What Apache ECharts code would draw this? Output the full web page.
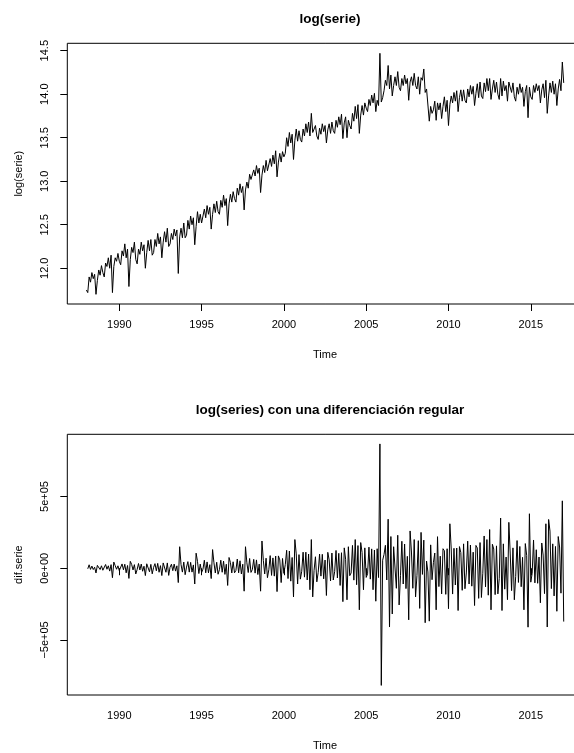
<!DOCTYPE html>
<html>
<head>
<meta charset="utf-8">
<script src="https://cdn.jsdelivr.net/npm/echarts@6/dist/echarts.min.js"></script>
<style>
html,body{margin:0;padding:0;background:#fff;overflow:hidden;}
#chart{width:600px;height:753px;}
</style>
</head>
<body>
<div id="chart"></div>
<script>
// Monthly series, Jan 1988 .. Jan 2017
const startYear = 1988;
const logSerie = [
// 1988
11.75, 11.72, 11.90, 11.84, 11.95, 11.88, 11.93, 11.70, 11.86, 11.98, 11.92, 12.03,
// 1989
11.95, 11.90, 12.06, 12.02, 12.12, 12.00, 12.15, 11.72, 12.02, 12.12, 12.08, 12.17,
// 1990
12.08, 12.04, 12.20, 12.14, 12.28, 12.12, 12.22, 11.79, 12.10, 12.24, 12.18, 12.30,
// 1991
12.10, 12.05, 12.22, 12.16, 12.30, 12.20, 12.27, 12.00, 12.18, 12.32, 12.20, 12.33,
// 1992
12.15, 12.18, 12.33, 12.25, 12.40, 12.28, 12.36, 12.12, 12.30, 12.42, 12.30, 12.46,
// 1993
12.25, 12.28, 12.40, 12.33, 12.45, 12.37, 12.44, 11.94, 12.36, 12.46, 12.35, 12.52,
// 1994
12.35, 12.38, 12.55, 12.45, 12.60, 12.50, 12.58, 12.27, 12.48, 12.65, 12.52, 12.62,
// 1995
12.52, 12.50, 12.68, 12.58, 12.72, 12.62, 12.70, 12.45, 12.62, 12.74, 12.64, 12.77,
// 1996
12.65, 12.62, 12.78, 12.70, 12.84, 12.72, 12.80, 12.49, 12.74, 12.85, 12.76, 12.88,
// 1997
12.80, 12.76, 12.92, 12.84, 12.97, 12.87, 12.94, 12.67, 12.90, 12.99, 12.92, 13.08,
// 1998
13.02, 13.00, 13.13, 13.06, 13.18, 13.09, 13.15, 12.87, 13.07, 13.18, 13.10, 13.24,
// 1999
13.12, 13.10, 13.26, 13.17, 13.30, 13.20, 13.35, 13.05, 13.22, 13.32, 13.22, 13.34,
// 2000
13.28, 13.32, 13.50, 13.40, 13.56, 13.44, 13.54, 13.25, 13.47, 13.60, 13.46, 13.58,
// 2001
13.48, 13.45, 13.60, 13.52, 13.66, 13.56, 13.68, 13.52, 13.78, 13.56, 13.54, 13.64,
// 2002
13.52, 13.48, 13.61, 13.54, 13.66, 13.57, 13.64, 13.44, 13.59, 13.66, 13.55, 13.68,
// 2003
13.58, 13.55, 13.70, 13.62, 13.74, 13.65, 13.77, 13.49, 13.67, 13.74, 13.50, 13.70,
// 2004
13.64, 13.60, 13.78, 13.69, 13.86, 13.72, 13.88, 13.55, 13.76, 13.87, 13.76, 13.90,
// 2005
13.84, 13.80, 13.94, 13.87, 13.99, 13.90, 14.01, 13.80, 13.93, 13.87, 14.47, 13.91,
// 2006
13.96, 14.04, 14.16, 14.10, 14.33, 14.06, 14.22, 13.98, 14.10, 14.20, 14.10, 14.26,
// 2007
14.08, 14.04, 14.18, 14.10, 14.22, 14.12, 14.18, 13.93, 14.14, 14.20, 14.10, 14.24,
// 2008
14.10, 14.06, 14.20, 14.00, 14.19, 14.16, 14.29, 14.02, 14.06, 14.04, 13.69, 13.86,
// 2009
13.78, 13.82, 13.92, 13.70, 13.90, 13.82, 13.90, 13.72, 13.86, 13.97, 13.80, 13.93,
// 2010
13.64, 13.88, 13.98, 13.90, 14.02, 13.92, 14.04, 13.80, 13.96, 14.05, 13.92, 14.05,
// 2011
13.93, 13.90, 14.06, 13.97, 14.10, 14.00, 14.09, 13.87, 14.01, 14.12, 13.96, 14.14,
// 2012
13.98, 13.95, 14.13, 14.03, 14.18, 14.04, 14.18, 13.94, 14.06, 14.16, 14.02, 14.14,
// 2013
14.00, 13.94, 14.18, 13.98, 14.15, 14.04, 14.10, 13.92, 14.14, 14.14, 14.02, 14.13,
// 2014
13.97, 13.92, 14.08, 14.00, 14.12, 14.02, 14.08, 13.86, 14.03, 14.10, 13.73, 14.08,
// 2015
13.97, 13.94, 14.10, 14.02, 14.12, 14.04, 14.10, 13.90, 14.05, 14.12, 13.96, 14.16,
// 2016
13.78, 13.98, 14.13, 14.02, 14.15, 14.00, 14.12, 13.87, 14.06, 14.17, 14.04, 14.37,
// 2017
14.13
];

// Regular difference of the series, Feb 1988 .. Jan 2017
const difStartIndex = 1;
const difSerie = [
// 1988 (Feb-Dec)
-4000, 24000, -8000, 15000, -9000, 7000, -33000, 20000, 18000, -9000, 17000,
// 1989
-14000, -8000, 26000, -7000, 17000, -20000, 25000, -66000, 43000, 18000, -7000, 17000,
// 1990
-17000, -8000, 30000, -11000, 28000, -32000, 19000, -71000, 48000, 27000, -12000, 25000,
// 1991
-40000, -9000, 33000, -12000, 29000, -21000, 14000, -51000, 31000, 29000, -25000, 27000,
// 1992
-39000, 6000, 32000, -18000, 34000, -28000, 18000, -51000, 37000, 28000, -28000, 37000,
// 1993
-50000, 7000, 28000, -17000, 29000, -20000, 17000, -100000, 150000, 25000, -27000, 43000,
// 1994
-45000, 8000, 46000, -27000, 41000, -27000, 23000, -110000, 105000, 48000, -37000, 29000,
// 1995
-30000, -6000, 56000, -32000, 44000, -32000, 25000, -72000, 130000, 38000, -33000, 42000,
// 1996
-42000, -10000, 56000, -28000, 50000, -43000, 28000, -120000, 75000, 40000, -33000, 45000,
// 1997
-32000, -16000, 64000, -32000, 52000, -40000, 28000, -160000, 150000, 38000, -30000, 68000,
// 1998
-29000, -9000, 62000, -34000, 58000, -44000, 29000, -160000, 190000, 55000, -40000, 70000,
// 1999
-66000, -11000, 88000, -50000, 72000, -55000, 85000, -163000, 86000, 58000, -100000, 68000,
// 2000
-36000, 25000, 125000, -72000, 120000, -90000, 75000, -200000, 200000, 100000, -110000, 95000,
// 2001
-76000, -21000, 112000, -62000, 112000, -82000, 99000, -150000, 200000, -200000, -15000, 80000,
// 2002
-95000, -29000, 99000, -55000, 97000, -74000, 57000, -190000, 111000, 58000, -89000, 106000,
// 2003
-82000, -24000, 124000, -68000, 104000, -120000, 108000, -233000, 142000, 63000, -220000, 150000,
// 2004
-52000, -33000, 159000, -83000, 200000, -115000, 158000, -290000, 179000, 110000, -150000, 142000,
// 2005
-64000, -39000, 147000, -76000, 135000, -150000, 127000, -230000, 136000, -65000, 867000, -817000,
// 2006
56000, 96000, 160000, -82000, 342000, -410000, 221000, -319000, 150000, 140000, -140000, 230000,
// 2007
-256000, -52000, 188000, -110000, 169000, -142000, 83000, -360000, 260000, 113000, -140000, 200000,
// 2008
-200000, -52000, 192000, -280000, 250000, -43000, 196000, -380000, 50000, -26000, -369000, 163000,
// 2009
-80000, 39000, 106000, -290000, 220000, -128000, 84000, -179000, 136000, 122000, -182000, 136000,
// 2010
-282000, 310000, 134000, -180000, 139000, -117000, 141000, -295000, 151000, 109000, -154000, 170000,
// 2011
-143000, -33000, 189000, -110000, 162000, -125000, 112000, -260000, 159000, 141000, -210000, 179000,
// 2012
-204000, -35000, 225000, -130000, 200000, -188000, 270000, -290000, 167000, 134000, -184000, 156000,
// 2013
-179000, -72000, 350000, -295000, 170000, -146000, 78000, -219000, 320000, 106000, -156000, 142000,
// 2014
-220000, -57000, 193000, -99000, 152000, -129000, 76000, -290000, 172000, 90000, -411000, 380000,
// 2015
-97000, -35000, 197000, -102000, 129000, -105000, 78000, -241000, 176000, 92000, -177000, 310000,
// 2016
-410000, 340000, 259000, -142000, 170000, -193000, 152000, -300000, 221000, 148000, -174000, 470000,
// 2017
-372000
];

const yearTicks = [1990, 1995, 2000, 2005, 2010, 2015];
const logTicks = [12.0, 12.5, 13.0, 13.5, 14.0, 14.5];
const difTicks = [-500000, 0, 500000];
const difTickLabels = ['\u22125e+05', '0e+00', '5e+05'];

const FONT = '"Liberation Sans", Arial, Helvetica, sans-serif';

const topData = logSerie.map((v, i) => [startYear + i / 12, v]);
const difData = difSerie.map((v, i) => [startYear + (i + difStartIndex) / 12, v]);

const chart = echarts.init(document.getElementById('chart'), null, {renderer: 'canvas'});

function xAxisFor(gridIndex) {
  return {
    gridIndex: gridIndex,
    type: 'value',
    min: 1986.84,
    max: 2018.16,
    axisLine: {show: false},
    splitLine: {show: false},
    axisTick: {show: true, customValues: yearTicks, length: 7, inside: false,
               lineStyle: {color: '#000', width: 1}},
    axisLabel: {show: true, customValues: yearTicks, color: '#000', fontFamily: FONT,
                fontSize: 11, margin: 15, formatter: v => String(v)},
    name: 'Time',
    nameLocation: 'middle',
    nameGap: 45,
    nameTextStyle: {color: '#000', fontFamily: FONT, fontSize: 11}
  };
}

const option = {
  animation: false,
  backgroundColor: '#fff',
  title: [
    {text: 'log(serie)', left: 325, top: 7, textAlign: 'center',
     textStyle: {fontFamily: FONT, fontSize: 13.5, fontWeight: 'bold', color: '#000'}},
    {text: 'log(series) con una diferenciación regular', left: 325, top: 398, textAlign: 'center',
     textStyle: {fontFamily: FONT, fontSize: 13.5, fontWeight: 'bold', color: '#000'}}
  ],
  grid: [
    {left: 67.3, top: 43.3, width: 515.5, height: 260.7, show: true,
     borderColor: '#000', borderWidth: 1, backgroundColor: 'transparent'},
    {left: 67.3, top: 434.3, width: 515.5, height: 260.7, show: true,
     borderColor: '#000', borderWidth: 1, backgroundColor: 'transparent'}
  ],
  xAxis: [xAxisFor(0), xAxisFor(1)],
  yAxis: [
    {gridIndex: 0, type: 'value', min: 11.589, max: 14.585,
     axisLine: {show: false}, splitLine: {show: false},
     axisTick: {show: true, customValues: logTicks, length: 7, lineStyle: {color: '#000'}},
     axisLabel: {show: true, customValues: logTicks, rotate: 90, color: '#000', fontFamily: FONT,
                 fontSize: 11, margin: 17, formatter: v => Number(v).toFixed(1)},
     name: 'log(serie)', nameLocation: 'middle', nameRotate: 90, nameGap: 43,
     nameTextStyle: {color: '#000', fontFamily: FONT, fontSize: 11}},
    {gridIndex: 1, type: 'value', min: -884000, max: 934000,
     axisLine: {show: false}, splitLine: {show: false},
     axisTick: {show: true, customValues: difTicks, length: 7, lineStyle: {color: '#000'}},
     axisLabel: {show: true, customValues: difTicks, rotate: 90, color: '#000', fontFamily: FONT,
                 fontSize: 11, margin: 17,
                 formatter: v => difTickLabels[difTicks.indexOf(Math.round(v))] || ''},
     name: 'dif.serie', nameLocation: 'middle', nameRotate: 90, nameGap: 43,
     nameTextStyle: {color: '#000', fontFamily: FONT, fontSize: 11}}
  ],
  series: [
    {type: 'line', xAxisIndex: 0, yAxisIndex: 0, data: topData, showSymbol: false,
     lineStyle: {color: '#000', width: 1}, silent: true},
    {type: 'line', xAxisIndex: 1, yAxisIndex: 1, data: difData, showSymbol: false,
     lineStyle: {color: '#000', width: 1}, silent: true}
  ]
};
chart.setOption(option);
</script>
</body>
</html>
